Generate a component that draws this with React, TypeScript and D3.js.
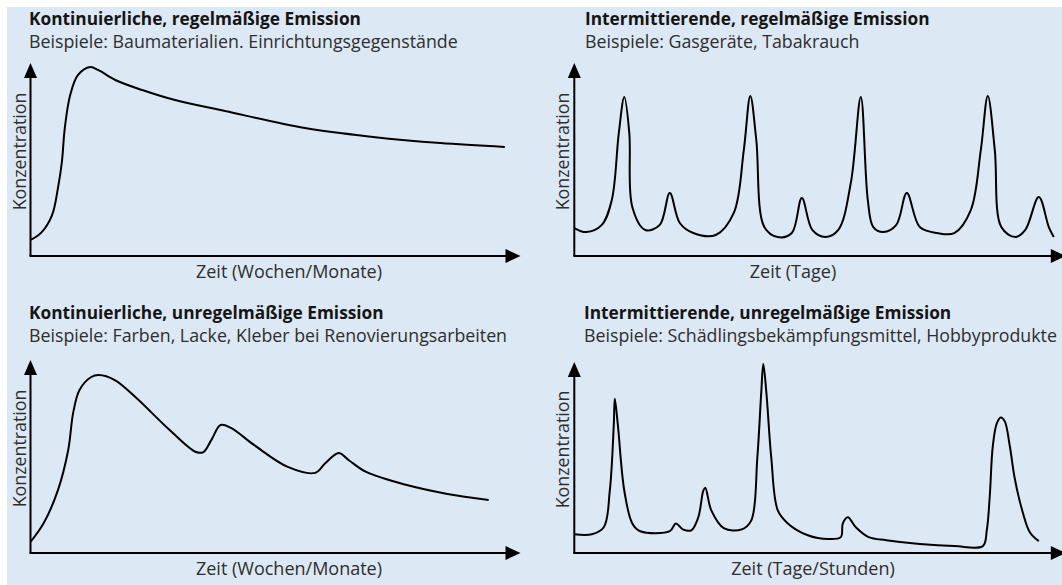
import * as d3 from "d3";

const width = 1062;
const height = 585;

// Zeit (0-100) / Konzentration (0-100)
const kontRegel: [number, number][] = [
  [0, 8.3], [2.3, 12.4], [4.4, 21.2], [5.6, 35.2], [6.4, 48.7], [7.0, 66.3],
  [8.1, 83.4], [9.7, 93.8], [12.2, 97.9], [13.8, 96.4], [17.3, 91.2], [22.8, 86.0],
  [29.5, 80.8], [39.7, 75.1], [56.0, 66.3], [69.9, 61.7], [83.6, 58.5], [96.8, 56.5],
];

const interRegel: [number, number][] = [
  [0, 14.5], [2.4, 12.4], [5.5, 16.1], [7.5, 29.0], [8.9, 63.7], [10.0, 82.4],
  [11.0, 63.7], [11.6, 25.4], [14.2, 13.5], [17.1, 16.1], [19.1, 32.6], [21.1, 17.1],
  [23.8, 11.9], [28.3, 10.9], [31.9, 22.3], [33.9, 54.9], [35.2, 82.9], [36.4, 60.1],
  [38.0, 15.0], [40.7, 9.8], [43.5, 11.9], [45.5, 30.1], [47.6, 13.5], [50.2, 9.8],
  [52.8, 13.5], [55.3, 37.8], [57.3, 82.4], [58.7, 29.0], [59.8, 15.0], [61.8, 12.4],
  [64.4, 16.1], [66.5, 32.6], [69.1, 15.0], [72.6, 11.9], [76.0, 11.9], [79.3, 23.8],
  [81.3, 54.9], [82.7, 82.9], [84.1, 54.9], [85.4, 15.0], [88.2, 9.8], [90.2, 13.5],
  [92.9, 30.6], [94.9, 15.0], [95.9, 9.8],
];

const kontUnregel: [number, number][] = [
  [0, 5.7], [2.7, 15.5], [5.6, 32.6], [7.7, 53.4], [8.7, 72.5], [10.0, 84.5],
  [12.4, 91.2], [13.9, 92.2], [17.2, 89.6], [21.4, 80.8], [28.4, 63.7], [33.8, 52.3],
  [35.3, 52.3], [36.9, 58.5], [38.8, 66.3], [40.9, 64.8], [45.6, 56.0], [52.5, 44.6],
  [58.1, 41.5], [60.2, 46.6], [62.9, 51.8], [64.9, 48.2], [68.5, 42.0], [76.8, 35.2],
  [85.1, 30.6], [93.5, 27.5],
];

const interUnregel: [number, number][] = [
  [0, 9.8], [3.5, 9.8], [5.9, 13.5], [7.1, 32.6], [7.9, 67.4], [8.1, 80.8],
  [8.7, 67.4], [10.0, 32.6], [11.6, 15.5], [13.2, 11.4], [19.1, 11.4], [20.3, 15.5],
  [21.7, 12.4], [23.4, 11.9], [24.8, 18.7], [25.8, 32.6], [26.2, 34.2], [27.4, 22.3],
  [29.9, 13.0], [33.5, 12.4], [35.4, 17.1], [36.6, 49.7], [37.4, 84.5], [37.8, 99.0],
  [38.4, 84.5], [39.4, 49.7], [40.7, 22.3], [42.7, 15.5], [46.7, 9.3], [50.8, 7.3],
  [53.3, 8.3], [53.7, 15.5], [54.7, 18.7], [56.3, 13.5], [58.9, 8.3], [62.4, 6.7],
  [69.1, 4.7], [76.0, 3.6], [81.7, 3.6], [82.5, 11.9], [83.1, 30.1], [83.7, 56.0],
  [84.5, 67.9], [85.3, 71.0], [86.1, 68.9], [87.1, 56.0], [88.1, 38.9], [89.7, 21.2],
  [91.1, 10.9], [92.9, 6.2],
];

const titles = [
  "Kontinuierliche, regelmäßige Emission",
  "Intermittierende, regelmäßige Emission",
  "Kontinuierliche, unregelmäßige Emission",
  "Intermittierende, unregelmäßige Emission",
];

const subtitles = [
  "Beispiele: Baumaterialien. Einrichtungsgegenstände",
  "Beispiele: Gasgeräte, Tabakrauch",
  "Beispiele: Farben, Lacke, Kleber bei Renovierungsarbeiten",
  "Beispiele: Schädlingsbekämpfungsmittel, Hobbyprodukte",
];

const xLabels = ["Zeit (Wochen/Monate)", "Zeit (Tage)", "Zeit (Wochen/Monate)", "Zeit (Tage/Stunden)"];

const series = [kontRegel, interRegel, kontUnregel, interUnregel];

// panel layout: axis origin, axis length, arrow tip (domain), text positions
const panels = [
  { ox: 30.5, oy: 256, w: 490, h: 193, tip: 100, tx: 29, ty: 25, lx: 289 },
  { ox: 574.3, oy: 256, w: 500, h: 193, tip: 98.3, tx: 585, ty: 25, lx: 793 },
  { ox: 30.5, oy: 553, w: 490, h: 193, tip: 100, tx: 29, ty: 319, lx: 289 },
  { ox: 574.3, oy: 553, w: 500, h: 191, tip: 98.3, tx: 584, ty: 319, lx: 813 },
];

const font = "'Open Sans', 'Noto Sans', sans-serif";

const Panel = ({ i }: { i: number }) => {
  const p = panels[i];
  const x = d3.scaleLinear().domain([0, 100]).range([p.ox, p.ox + p.w]);
  const y = d3.scaleLinear().domain([0, 100]).range([p.oy, p.oy - p.h]);
  const line = d3
    .line<[number, number]>()
    .x((d) => x(d[0]))
    .y((d) => y(d[1]))
    .curve(d3.curveCatmullRom.alpha(0.5));

  const tipX = x(p.tip);
  const tipY = y(100);

  return (
    <g className={`panel-${i}`}>
      <text x={p.tx} y={p.ty} fontFamily={font} fontSize={17.3} fontWeight={700} fill="#151515">
        {titles[i]}
      </text>
      <text x={p.tx} y={p.ty + 23} fontFamily={font} fontSize={17.8} fill="#2e2e2e">
        {subtitles[i]}
      </text>
      <line x1={p.ox} y1={p.oy} x2={p.ox} y2={tipY + 10} stroke="#000" strokeWidth={2} />
      <line x1={p.ox - 1} y1={p.oy} x2={tipX - 10} y2={p.oy} stroke="#000" strokeWidth={2} />
      <path d={`M${p.ox},${tipY} L${p.ox - 6.5},${tipY + 15} L${p.ox + 6.5},${tipY + 15} Z`} fill="#000" />
      <path d={`M${tipX},${p.oy} L${tipX - 15},${p.oy - 7} L${tipX - 15},${p.oy + 7} Z`} fill="#000" />
      <path d={line(series[i]) ?? ""} fill="none" stroke="#000" strokeWidth={2} strokeLinejoin="round" />
      <text x={p.lx} y={p.oy + 22} textAnchor="middle" fontFamily={font} fontSize={18} fill="#2e2e2e">
        {xLabels[i]}
      </text>
      <text
        transform={`translate(${p.ox - 5},${p.oy - p.h / 2 - 8}) rotate(-90)`}
        textAnchor="middle"
        fontFamily={font}
        fontSize={17.8}
        fill="#2e2e2e"
      >
        Konzentration
      </text>
    </g>
  );
};

export default function App() {
  return (
    <svg
      width={width}
      height={height}
      viewBox={`0 0 ${width} ${height}`}
      style={{ position: "absolute", left: 0, top: 0 }}
    >
      <rect x={0} y={0} width={width} height={height} fill="#fff" />
      <rect x={7} y={7} width={width - 7} height={height - 7} fill="#dce8f4" />
      {panels.map((_, i) => (
        <Panel key={i} i={i} />
      ))}
    </svg>
  );
}
